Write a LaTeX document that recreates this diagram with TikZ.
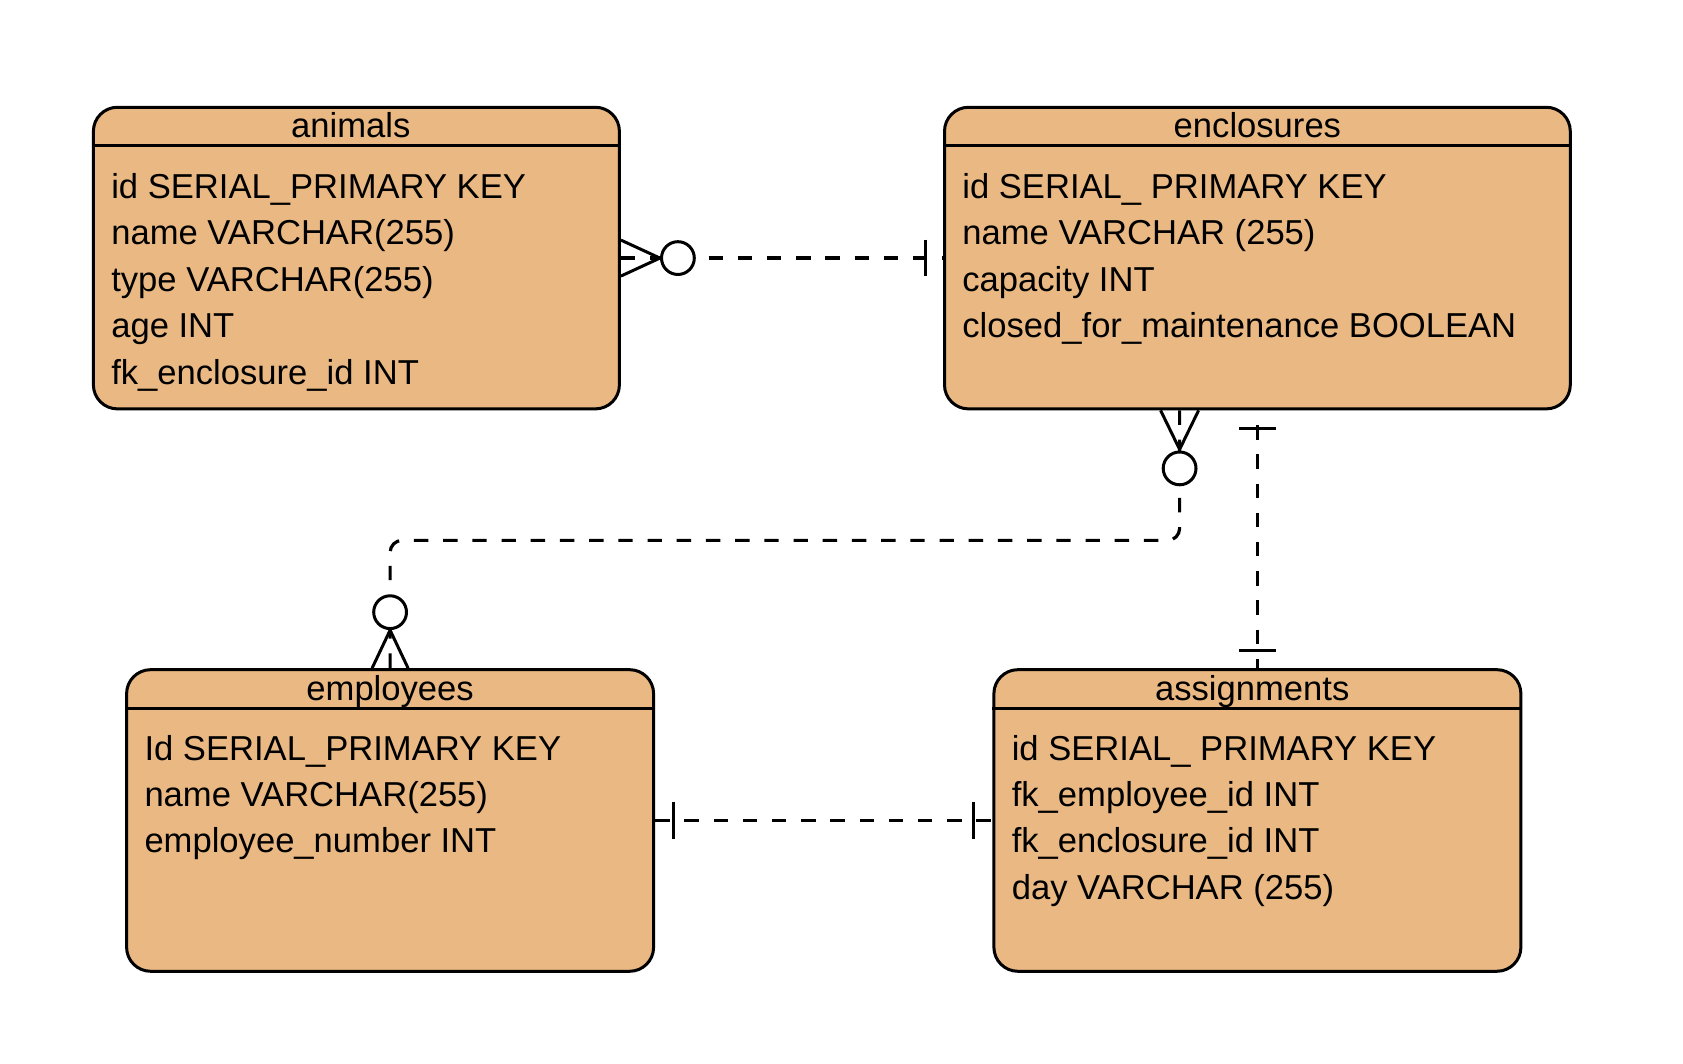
\documentclass[tikz,border=0pt]{standalone}
\usepackage{fontspec}
\setmainfont{Liberation Sans}
\usetikzlibrary{positioning,calc}
\definecolor{tablefill}{RGB}{234,185,131}
\tikzstyle{entity} = [draw,line width=1.5pt,rounded corners=12pt,fill=tablefill,minimum height=150.8pt,inner sep=0]
\tikzstyle{title} = [inner sep=0,anchor=base,font=\fontsize{17.3}{20}\selectfont]
\tikzstyle{fields} = [inner sep=0,anchor=north west,align=left,font=\fontsize{17.3}{23.2}\selectfont]
\tikzstyle{rel} = [line width=1.6pt,dash pattern=on 7.2pt off 7.4pt]
\tikzstyle{erend} = [line width=1.5pt,solid]

\begin{document}
\begin{tikzpicture}
  \useasboundingbox (0,0) rectangle (841.5pt,532pt);
  % tables
  \node[entity,minimum width=263pt] (animals) at (178.2pt,402.95pt) {};
  \node[entity,minimum width=312.9pt] (enclosures) at (628.7pt,402.95pt) {};
  \node[entity,minimum width=263.5pt] (employees) at (195.05pt,121.75pt) {};
  \node[entity,minimum width=263.5pt] (assignments) at (628.7pt,121.75pt) {};
  \draw[line width=1.5pt] ([yshift=-20pt]animals.north west) -- ([yshift=-20pt]animals.north east);
  \draw[line width=1.5pt] ([yshift=-20pt]enclosures.north west) -- ([yshift=-20pt]enclosures.north east);
  \draw[line width=1.5pt] ([yshift=-20pt]employees.north west) -- ([yshift=-20pt]employees.north east);
  \draw[line width=1.5pt] ([yshift=-20pt]assignments.north west) -- ([yshift=-20pt]assignments.north east);
  \node[title] (animals-title) at ([xshift=-2.8pt,yshift=-16pt]animals.north) {animals};
  \node[title] (enclosures-title) at ([yshift=-16pt]enclosures.north) {enclosures};
  \node[title] (employees-title) at ([yshift=-16pt]employees.north) {employees};
  \node[title] (assignments-title) at ([xshift=-2.6pt,yshift=-16pt]assignments.north) {assignments};
  \node[fields] (animals-fields) at ([xshift=9.5pt,yshift=-33.6pt]animals.north west)
    {id SERIAL\_PRIMARY KEY\\name VARCHAR(255)\\type VARCHAR(255)\\age INT\\fk\_enclosure\_id INT};
  \node[fields] (enclosures-fields) at ([xshift=9.5pt,yshift=-33.6pt]enclosures.north west)
    {id SERIAL\_ PRIMARY KEY\\name VARCHAR (255)\\capacity INT\\closed\_for\_maintenance BOOLEAN};
  \node[fields] (employees-fields) at ([xshift=9.5pt,yshift=-33.2pt]employees.north west)
    {Id SERIAL\_PRIMARY KEY\\name VARCHAR(255)\\employee\_number INT};
  \node[fields] (assignments-fields) at ([xshift=9.5pt,yshift=-33.2pt]assignments.north west)
    {id SERIAL\_ PRIMARY KEY\\fk\_employee\_id INT\\fk\_enclosure\_id INT\\day VARCHAR (255)};
  % animals -- enclosures
  \draw[rel] (animals.east) -- (enclosures.west);
  \draw[erend] ([yshift=9pt]animals.east) -- ([xshift=19.5pt]animals.east) -- ([yshift=-9pt]animals.east);
  \draw[erend,fill=white] ([xshift=28.5pt]animals.east) circle (8.2pt);
  \draw[erend] ([xshift=-9pt,yshift=9.2pt]enclosures.west) -- ++(0,-18.4pt);
  % enclosures -- employees
  \draw[rel,rounded corners=6pt] ([xshift=-38.9pt]enclosures.south) -- ++(0,-65pt) -| (employees.north);
  \draw[erend] ([xshift=-48.4pt]enclosures.south) -- ([xshift=-38.9pt,yshift=-19.5pt]enclosures.south) -- ([xshift=-29.4pt]enclosures.south);
  \draw[erend,fill=white] ([xshift=-38.9pt,yshift=-29pt]enclosures.south) circle (8.2pt);
  \draw[erend] ([xshift=-9pt]employees.north) -- ([yshift=19pt]employees.north) -- ([xshift=9pt]employees.north);
  \draw[erend,fill=white] ([yshift=28pt]employees.north) circle (8.2pt);
  % enclosures -- assignments
  \draw[rel,dash phase=7.2pt] (enclosures.south) -- (assignments.north);
  \draw[erend] ([xshift=-9.3pt,yshift=-9.2pt]enclosures.south) -- ++(18.6pt,0);
  \draw[erend] ([xshift=-9.3pt,yshift=8.7pt]assignments.north) -- ++(18.6pt,0);
  % employees -- assignments
  \draw[rel] (employees.east) -- (assignments.west);
  \draw[erend] ([xshift=9pt,yshift=9.2pt]employees.east) -- ++(0,-18.4pt);
  \draw[erend] ([xshift=-9.5pt,yshift=9.2pt]assignments.west) -- ++(0,-18.4pt);
\end{tikzpicture}
\end{document}
